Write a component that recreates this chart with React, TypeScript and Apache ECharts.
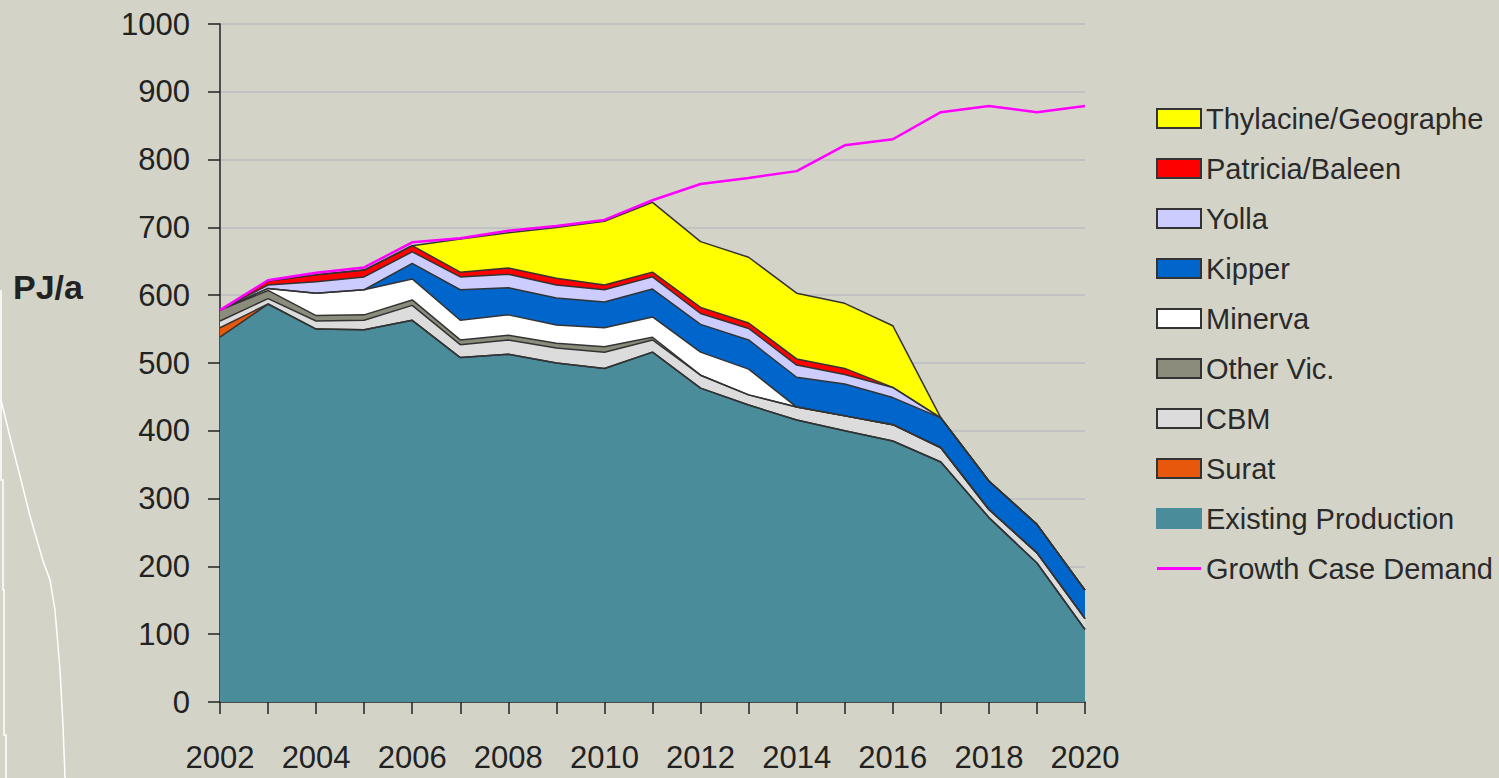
import React, { useEffect, useRef } from "react";
import * as echarts from "echarts";

const years = ["2002","2003","2004","2005","2006","2007","2008","2009","2010","2011","2012","2013","2014","2015","2016","2017","2018","2019","2020"];
const existingProduction = [538, 587, 550, 549, 563, 508, 513, 500, 492, 516, 463, 438, 416, 400, 385, 354, 272, 205, 107];
const surat = [14, 0, 0, 0, 0, 0, 0, 0, 0, 0, 0, 0, 0, 0, 0, 0, 0, 0, 0];
const cbm = [10, 8, 12, 14, 22, 19, 21, 22, 24, 18, 19, 15, 19, 22, 24, 21, 12, 15, 16];
const otherVic = [16, 12, 8, 8, 8, 7, 7, 7, 8, 4, 0, 0, 0, 0, 0, 0, 0, 0, 0];
const minerva = [0, 3, 33, 37, 31, 29, 30, 27, 28, 30, 34, 38, 0, 0, 0, 0, 0, 0, 0];
const kipper = [0, 0, 0, 0, 23, 45, 40, 40, 38, 41, 41, 43, 44, 47, 40, 44, 42, 42, 42];
const yolla = [0, 5, 17, 19, 17, 19, 20, 19, 18, 18, 16, 17, 18, 14, 15, 0, 0, 0, 0];
const patricia = [0, 6, 10, 10, 9, 7, 9, 10, 7, 7, 9, 8, 9, 9, 0, 0, 0, 0, 0];
const thylacine = [0, 0, 0, 0, 0, 49, 52, 75, 94, 103, 97, 97, 97, 96, 91, 0, 0, 0, 0];
const demand = [578, 622, 633, 641, 678, 684, 695, 702, 711, 740, 764, 773, 783, 821, 830, 870, 879, 870, 879];

const FONT = "'Liberation Sans', Arial, sans-serif";

export default function App() {
  const ref = useRef<HTMLDivElement>(null);
  useEffect(() => {
    if (!ref.current) return;
    const chart = echarts.init(ref.current, null, { renderer: "svg" });
    const stackDefs: [string, number[], string][] = [
      ["Existing Production", existingProduction, "#4a8c9a"],
      ["Surat", surat, "#e8580c"],
      ["CBM", cbm, "#dcdcdc"],
      ["Other Vic.", otherVic, "#8c8c7c"],
      ["Minerva", minerva, "#ffffff"],
      ["Kipper", kipper, "#0066cc"],
      ["Yolla", yolla, "#ccccff"],
      ["Patricia/Baleen", patricia, "#ff0000"],
      ["Thylacine/Geographe", thylacine, "#ffff00"],
    ];
    const series: any[] = stackDefs.map(([name, data, color]) => ({
      name,
      type: "line",
      stack: "total",
      data,
      symbol: "none",
      itemStyle: { color, borderColor: name === "Existing Production" ? color : "#333", borderWidth: 1 },
      lineStyle: { color: "#333", width: 1.5 },
      areaStyle: { color, opacity: 1 },
    }));
    series.push({
      name: "Growth Case Demand",
      type: "line",
      data: demand,
      symbol: "none",
      z: 5,
      itemStyle: { color: "#ff00ff" },
      lineStyle: { color: "#ff00ff", width: 2.5 },
    });
    const legendNames = [
      "Thylacine/Geographe", "Patricia/Baleen", "Yolla", "Kipper", "Minerva",
      "Other Vic.", "CBM", "Surat", "Existing Production",
    ];
    chart.setOption({
      animation: false,
      backgroundColor: "#d3d3c8",
      grid: { left: 220, right: 414, top: 24, bottom: 76, containLabel: false },
      legend: {
        orient: "vertical",
        left: 1151,
        top: 99,
        itemWidth: 44,
        itemHeight: 19,
        itemGap: 21,
        textStyle: { fontFamily: FONT, fontSize: 29, lineHeight: 29, color: "#2a2a2a" },
        data: [
          ...legendNames.map((n) => ({ name: n, icon: "rect" })),
          { name: "Growth Case Demand", icon: "path://M0,0 H44 V3 H0 Z", itemStyle: { color: "#ff00ff", borderWidth: 0 } },
        ],
      },
      xAxis: {
        type: "category",
        data: years,
        boundaryGap: false,
        axisLine: { lineStyle: { color: "#222", width: 1.5 } },
        axisTick: { interval: 0, length: 12, lineStyle: { color: "#222", width: 1.5 } },
        axisLabel: { interval: 1, margin: 40, fontFamily: FONT, fontSize: 31, color: "#222" },
        splitLine: { show: false },
      },
      yAxis: {
        type: "value",
        min: 0,
        max: 1000,
        interval: 100,
        axisLine: { show: true, lineStyle: { color: "#222", width: 1.5 } },
        axisTick: { show: true, length: 12, lineStyle: { color: "#222", width: 1.5 } },
        axisLabel: { margin: 30, fontFamily: FONT, fontSize: 31, color: "#222", formatter: (v: number) => String(v) },
        splitLine: { show: true, lineStyle: { color: "#bcbcc4", width: 1.5 } },
      },
      graphic: [
        {
          type: "text",
          left: 13,
          top: 270,
          style: { text: "PJ/a", fontFamily: FONT, fontSize: 34, fontWeight: "bold", fill: "#222" },
        },
        {
          type: "polyline",
          shape: { points: [[1, 400], [10, 437], [20, 476], [30, 516], [43, 561], [50, 580], [55, 610], [60, 670], [63, 725], [65, 778]] },
          style: { stroke: "#ffffff", lineWidth: 1.5, fill: null },
        },
        {
          type: "polyline",
          shape: { points: [[1, 290], [1, 480], [3, 480], [3, 590], [4, 590], [4, 735], [6, 735], [6, 778]] },
          style: { stroke: "#ffffff", lineWidth: 1.5, fill: null },
        },
      ],
      series,
    });
    return () => chart.dispose();
  }, []);
  return <div ref={ref} style={{ position: "fixed", left: 0, top: 0, width: 1499, height: 778 }} />;
}
